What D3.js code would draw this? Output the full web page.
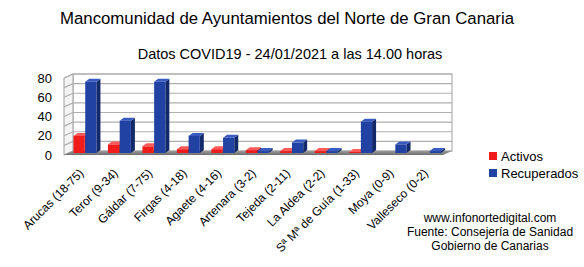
<!DOCTYPE html>
<meta charset="utf-8">
<script src="https://d3js.org/d3.v7.min.js"></script>
<style>
  body { margin: 0; background: #fff; }
  svg { font-family: "Liberation Sans", Arial, sans-serif; }
</style>
<div id="my_dataviz"></div>
<script>
// data
var municipios = ["Arucas (18-75)", "Teror (9-34)", "Gáldar (7-75)", "Firgas (4-18)", "Agaete (4-16)",
  "Artenara (3-2)", "Tejeda (2-11)", "La Aldea (2-2)", "Sª Mª de Guía (1-33)", "Moya (0-9)", "Valleseco (0-2)"]
var activos = [18, 9, 7, 4, 4, 3, 2, 2, 1, 0, 0]
var recuperados = [75, 34, 75, 18, 16, 2, 11, 2, 33, 9, 2]
var yTicks = [0, 20, 40, 60, 80]
var series = ["Activos", "Recuperados"]
var colors = {
  Activos: {front: "#f01c1c", side: "#a80e0e", top: "#ff5a5a"},
  Recuperados: {front: "#2142a3", side: "#14296a", top: "#3a5bbf"}
}

var W = 584, H = 267
var svg = d3.select("#my_dataviz").append("svg")
  .attr("width", W).attr("height", H)

// titles
svg.append("text").attr("x", 287).attr("y", 24).attr("text-anchor", "middle")
  .style("font-size", "16.8px").text("Mancomunidad de Ayuntamientos del Norte de Gran Canaria")
svg.append("text").attr("x", 290).attr("y", 59).attr("text-anchor", "middle")
  .style("font-size", "14.5px").text("Datos COVID19 - 24/01/2021 a las  14.00 horas")

// 3D box: back wall and depth offset
var dx = 9, dy = 4
var back = {x0: 73, x1: 452}
var yBack = d3.scaleLinear().domain([0, 80]).range([151, 74])
var yFront = d3.scaleLinear().domain([0, 80]).range([155, 78])
var yMid = d3.scaleLinear().domain([0, 80]).range([153, 77])

// back wall
svg.append("rect").attr("x", back.x0).attr("y", yBack(80))
  .attr("width", back.x1 - back.x0).attr("height", yBack(0) - yBack(80))
  .attr("fill", "#fff").attr("stroke", "#a0a0a0")
// left wall
svg.append("polygon")
  .attr("points", [[back.x0, yBack(0)], [back.x0, yBack(80)], [back.x0 - dx, yBack(80) + dy], [back.x0 - dx, yBack(0) + dy]].join(" "))
  .attr("fill", "#f4f4f4").attr("stroke", "#a0a0a0")

// gridlines
var grid = d3.range(0, 90, 10)
svg.append("g").selectAll("path").data(grid).enter().append("path")
  .attr("d", function(d) {
    return "M" + (back.x0 - dx) + "," + (yBack(d) + dy) + "L" + back.x0 + "," + yBack(d) + "L" + back.x1 + "," + yBack(d)
  })
  .attr("fill", "none").attr("stroke", "#b0b0b0").attr("stroke-width", 1.2)

// floor
var floorGrad = svg.append("defs").append("linearGradient").attr("id", "floorG")
  .attr("x1", 0).attr("x2", 0).attr("y1", 0).attr("y2", 1)
floorGrad.append("stop").attr("offset", "0%").attr("stop-color", "#9a9a9a")
floorGrad.append("stop").attr("offset", "100%").attr("stop-color", "#6e6e6e")
svg.append("polygon")
  .attr("points", [[back.x0, yBack(0)], [back.x1, yBack(0)], [back.x1 - dx, yBack(0) + dy], [back.x0 - dx, yBack(0) + dy]].join(" "))
  .attr("fill", "url(#floorG)")

// y axis labels
var yAxis = svg.append("g").attr("transform", "translate(" + (back.x0 - dx - 4) + ",0)")
  .call(d3.axisLeft(yFront).tickValues(yTicks).tickSize(0).tickPadding(8))
yAxis.select(".domain").remove()
yAxis.selectAll("text").style("font-size", "13px").attr("fill", "#000")
  .style("font-family", "Liberation Sans, Arial, sans-serif")

// x scales (bars sit at mid depth)
var x = d3.scaleBand().domain(municipios).range([back.x0 - dx + 4, back.x1 - dx + 4])
  .paddingInner(0.32).paddingOuter(0.16)
var xSub = d3.scaleBand().domain(series).range([0, x.bandwidth()])

var bdx = 4, bdy = 3
var rows = []
municipios.forEach(function(m, i) {
  rows.push({m: m, key: "Activos", value: activos[i]})
  rows.push({m: m, key: "Recuperados", value: recuperados[i]})
})

var bars = svg.append("g").selectAll("g").data(rows.filter(function(d) { return d.value > 0 }))
  .enter().append("g")
bars.each(function(d) {
  var g = d3.select(this)
  var x0 = x(d.m) + xSub(d.key), w = xSub.bandwidth() - 0.5
  var y0 = yMid(0), y1 = yMid(d.value)
  var c = colors[d.key]
  // side
  g.append("polygon")
    .attr("points", [[x0 + w, y0], [x0 + w + bdx, y0 - bdy], [x0 + w + bdx, y1 - bdy], [x0 + w, y1]].join(" "))
    .attr("fill", c.side)
  // top
  g.append("polygon")
    .attr("points", [[x0, y1], [x0 + bdx, y1 - bdy], [x0 + w + bdx, y1 - bdy], [x0 + w, y1]].join(" "))
    .attr("fill", c.top)
  // front
  g.append("rect").attr("x", x0).attr("y", y1).attr("width", w).attr("height", y0 - y1)
    .attr("fill", c.front)
})

// x labels
svg.append("g").selectAll("text").data(municipios).enter().append("text")
  .attr("transform", function(d) {
    return "translate(" + (x(d) + x.bandwidth() / 2 - 1) + ",174) rotate(-45)"
  })
  .attr("text-anchor", "end")
  .style("font-size", "12px")
  .text(function(d) { return d })

// legend
series.forEach(function(s, i) {
  svg.append("rect").attr("x", 489).attr("y", 152 + i * 17).attr("width", 8).attr("height", 8)
    .attr("fill", colors[s].front)
  svg.append("text").attr("x", 501).attr("y", 156 + i * 17).attr("dy", "0.35em")
    .style("font-size", "13px").text(s)
})

// source
var source = ["www.infonortedigital.com", "Fuente: Consejería de Sanidad", "Gobierno de Canarias"]
svg.append("g").selectAll("text").data(source).enter().append("text")
  .attr("x", 490).attr("y", function(d, i) { return 222 + i * 14 })
  .attr("text-anchor", "middle").style("font-size", "12px")
  .text(function(d) { return d })
</script>
